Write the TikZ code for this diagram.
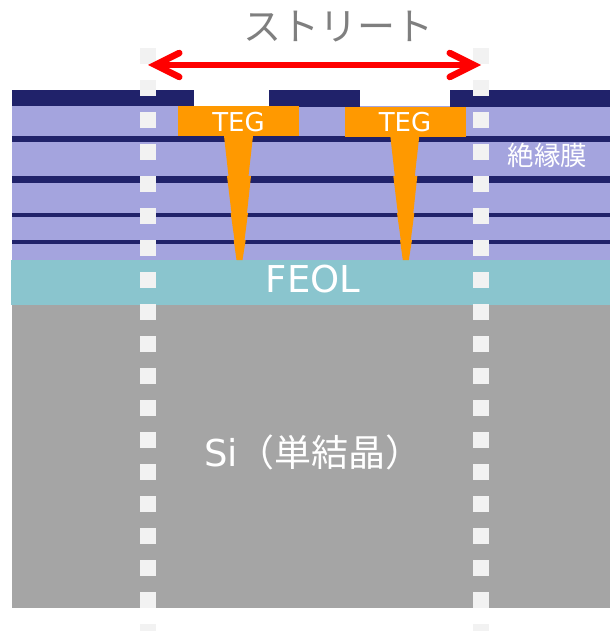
\documentclass[tikz,border=0pt]{standalone}
\usepackage{fontspec}
\setmainfont{DejaVu Sans}
\newfontfamily\cjk{Noto Sans CJK JP}
\usetikzlibrary{arrows.meta}
\definecolor{navyband}{HTML}{20226A}
\definecolor{lilac}{HTML}{A4A4DE}
\definecolor{feol}{HTML}{8AC5CE}
\definecolor{sibulk}{HTML}{A5A5A5}
\definecolor{teg}{HTML}{FF9900}
\definecolor{cutline}{HTML}{F2F2F2}
\definecolor{titlegray}{HTML}{7F7F7F}
\tikzset{
  band/.style={fill=navyband,draw=none},
  metal/.style={fill=teg,draw=none},
  label/.style={text=white,inner sep=0pt,font=#1},
  cut/.style={draw=cutline,line width=16pt,dash pattern=on 16pt off 16pt},
  barb/.tip={Straight Barb[length=24pt,width=24pt,line width=6.5pt,line cap=round,line join=miter]},
  span/.style={draw=red,line width=5.5pt,barb-barb}
}
\begin{document}
\begin{tikzpicture}[x=1pt,y=-1pt]
\useasboundingbox (0,0) rectangle (610,631);
% substrate
\fill[sibulk] (12,305) rectangle (610,608);
\fill[lilac] (12,106) rectangle (610,260);
\fill[feol] (11,260) rectangle (610,305);
% top band
\fill[band] (12,90) rectangle (194,106);
\fill[band] (269,90) rectangle (360,107);
\fill[band] (450,90) rectangle (610,107);
% thin layers
\fill[band] (12,136) rectangle (610,142);
\fill[band] (12,176) rectangle (610,183);
\fill[band] (12,213) rectangle (610,217);
\fill[band] (12,240) rectangle (610,244);
% TEG metal and vias
\fill[metal] (178,106) rectangle (299,136);
\fill[metal] (345,107) rectangle (466,137);
\foreach \dx in {0,166.3}{
  \begin{scope}[xshift=\dx pt]
    \fill[metal] (224,136) -- (253,136) -- (248.5,176) -- (228.5,176) -- cycle;
    \fill[metal] (227,176) -- (251,176) -- (247,213) -- (231.5,213) -- cycle;
    \fill[metal] (230.7,213) -- (248,213) -- (244.5,240) -- (234.5,240) -- cycle;
    \fill[metal] (233.7,240) -- (245.7,240) -- (242.5,260) -- (236.5,260) -- cycle;
  \end{scope}
}
% scribe lines
\coordinate (cutLtop) at (148,48);
\coordinate (cutLbot) at (148,631);
\coordinate (cutRtop) at (481,48);
\coordinate (cutRbot) at (481,631);
\draw[cut] (cutLtop) -- (cutLbot);
\draw[cut] (cutRtop) -- (cutRbot);
% arrow
\coordinate (spanL) at (148,65);
\coordinate (spanR) at (481,65);
\draw[span] (spanL) -- (spanR);
% text
\node[inner sep=0pt,text=titlegray,font=\cjk\fontsize{38}{38}\selectfont] (title) at (338.5,27) {ストリート};
\node[label=\fontsize{26}{26}\selectfont] (tegA) at (238.5,122) {TEG};
\node[label=\fontsize{26}{26}\selectfont] (tegB) at (405,122.5) {TEG};
\node[label=\cjk\fontsize{26.5}{26.5}\selectfont] (ins) at (547.5,155.5) {絶縁膜};
\node[label=\fontsize{37}{37}\selectfont] (feolT) at (313,279) {FEOL};
\node[label=\fontsize{37}{37}\selectfont,anchor=west] (siT) at (204,452) {Si{\cjk（単結晶）}};
\end{tikzpicture}
\end{document}
